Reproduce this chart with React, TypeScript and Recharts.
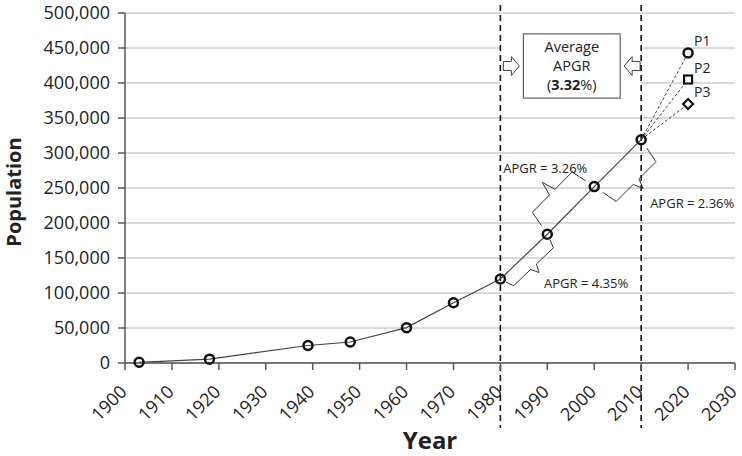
import { LineChart, Line, XAxis, YAxis, CartesianGrid, ReferenceLine, ReferenceArea } from "recharts";

// observed population by census year
const years = [1903, 1918, 1939, 1948, 1960, 1970, 1980, 1990, 2000, 2010];
const population = [1000, 5500, 25000, 30000, 50500, 86000, 120000, 184000, 252000, 319000];

// projections to 2020
const projectionYears = [2010, 2020];
const p1Values = [319000, 443000];
const p2Values = [319000, 405000];
const p3Values = [319000, 370000];
const projectionNames = ["P1", "P2", "P3"];

// brace annotations (segment start year, end year, text)
const braceFrom = [1980, 1990, 2000];
const braceTo = [1990, 2000, 2010];
const braceLabels = ["APGR = 4.35%", "APGR = 3.26%", "APGR = 2.36%"];
const averageApgr = "3.32";

const xTicks = [1900, 1910, 1920, 1930, 1940, 1950, 1960, 1970, 1980, 1990, 2000, 2010, 2020, 2030];
const yTicks = [0, 50000, 100000, 150000, 200000, 250000, 300000, 350000, 400000, 450000, 500000];

const mainData = years.map((y, i) => ({ year: y, pop: population[i] }));
const projData = [p1Values, p2Values, p3Values].map((vals) =>
    projectionYears.map((y, i) => ({ year: y, pop: vals[i] }))
);
const popAt = (yr: number) => population[years.indexOf(yr)];

const FONT = "'Open Sans', sans-serif";
const INK = "#222";

// how each brace sits next to the line (pixels)
const braceStyle = [
    { side: 1, d: 14, hook: 8, tip: 8, dx: 5, dy: 15, anchor: "start" },
    { side: -1, d: 26, hook: 16, tip: 14, dx: 3, dy: -9, anchor: "middle" },
    { side: 1, d: 26, hook: 16, tip: 10, dx: 7, dy: 19, anchor: "start" },
];

function braceShape(st: any, text: string) {
    return (p: any) => {
        const { x1, y1, x2, y2 } = p;
        const L = Math.hypot(x2 - x1, y2 - y1);
        const ux = (x2 - x1) / L;
        const uy = (y2 - y1) / L;
        const nx = st.side > 0 ? -uy : uy;
        const ny = st.side > 0 ? ux : -ux;
        const pt = (a: number, b: number) => `${x1 + ux * a + nx * b},${y1 + uy * a + ny * b}`;
        const m = L / 2;
        const pts = [
            pt(2, st.d - st.hook),
            pt(5, st.d),
            pt(m - 4, st.d),
            pt(m, st.d + st.tip),
            pt(m + 4, st.d),
            pt(L - 5, st.d),
            pt(L - 2, st.d - st.hook),
        ].join(" ");
        const tx = x1 + ux * m + nx * (st.d + st.tip);
        const ty = y1 + uy * m + ny * (st.d + st.tip);
        return (
            <g>
                <polyline points={pts} fill="none" stroke="#333" strokeWidth={1} />
                <text x={tx + st.dx} y={ty + st.dy} textAnchor={st.anchor} fontFamily={FONT} fontSize={13} fill={INK}>
                    {text}
                </text>
            </g>
        );
    };
}

function arrow(tipX: number, cy: number, dir: number) {
    // hollow block arrow, dir 1 = pointing right
    const pts = [
        [-16, -4.5],
        [-8, -4.5],
        [-8, -9.5],
        [0, 0],
        [-8, 9.5],
        [-8, 4.5],
        [-16, 4.5],
    ]
        .map(([a, b]) => `${tipX + a * dir},${cy + b}`)
        .join(" ");
    return <polygon points={pts} fill="#fff" stroke="#444" strokeWidth={1} />;
}

function boxShape(p: any) {
    const { x, y, width, height } = p;
    const bx = x + 23;
    const bw = width - 44;
    const by = y + 5.5;
    const bh = height - 10;
    const cx = bx + bw / 2;
    const cy = by + bh / 2;
    return (
        <g>
            <rect x={x} y={y} width={width} height={height} fill="#fff" />
            <rect x={bx} y={by} width={bw} height={bh} fill="#fff" stroke="#444" strokeWidth={1} />
            {arrow(bx - 4, cy, 1)}
            {arrow(bx + bw + 4, cy, -1)}
            <text textAnchor="middle" fontFamily={FONT} fontSize={14.5} fill={INK}>
                <tspan x={cx} y={by + 18}>Average</tspan>
                <tspan x={cx} y={by + 37}>APGR</tspan>
                <tspan x={cx} y={by + 56}>
                    (<tspan fontWeight="bold">{averageApgr}</tspan>%)
                </tspan>
            </text>
        </g>
    );
}

function dashedExtended(p: any) {
    const top = Math.min(p.y1, p.y2);
    const bottom = Math.max(p.y1, p.y2);
    return <line x1={p.x1} x2={p.x2} y1={top - 8} y2={bottom + 65} stroke="#111" strokeWidth={1.6} strokeDasharray="6 4" />;
}

function XTick(p: any) {
    const { x, y, payload } = p;
    const ax = x + 3;
    const ay = y + 23;
    return (
        <text x={ax} y={ay} transform={`rotate(-45 ${ax} ${ay})`} textAnchor="end" fontFamily={FONT} fontSize={18} fill={INK}>
            {payload.value}
        </text>
    );
}

function circleDot(p: any) {
    return <circle key={p.key ?? `c${p.index}`} cx={p.cx} cy={p.cy} r={4.5} fill="none" stroke="#111" strokeWidth={2.5} />;
}

function projDot(kind: number) {
    return (p: any) => {
        const k = p.key ?? `p${kind}-${p.index}`;
        if (p.index !== 1) return <g key={k} />;
        const { cx, cy } = p;
        let mark;
        if (kind === 0) mark = <circle cx={cx} cy={cy} r={4.5} fill="#fff" stroke="#111" strokeWidth={2.5} />;
        else if (kind === 1) mark = <rect x={cx - 4} y={cy - 4} width={8} height={8} fill="#fff" stroke="#111" strokeWidth={2.2} />;
        else
            mark = (
                <polygon
                    points={`${cx},${cy - 5} ${cx + 5},${cy} ${cx},${cy + 5} ${cx - 5},${cy}`}
                    fill="#fff"
                    stroke="#111"
                    strokeWidth={2.2}
                />
            );
        return (
            <g key={k}>
                {mark}
                <text x={cx + 6} y={cy - 7} fontFamily={FONT} fontSize={14} fill={INK}>
                    {projectionNames[kind]}
                </text>
            </g>
        );
    };
}

export default function App() {
    return (
        <div style={{ position: "absolute", left: 0, top: 0, background: "#fff" }}>
            <LineChart width={742} height={456} margin={{ top: 13, right: 7, bottom: 0, left: 0 }}>
                <CartesianGrid vertical={false} stroke="#b4b4b4" strokeWidth={1} />
                <XAxis
                    dataKey="year"
                    type="number"
                    domain={[1900, 2030]}
                    ticks={xTicks}
                    interval={0}
                    height={93}
                    tickSize={7}
                    tickMargin={0}
                    axisLine={{ stroke: "#555", strokeWidth: 1.5 }}
                    tickLine={{ stroke: "#555", strokeWidth: 1.5 }}
                    tick={<XTick />}
                    label={{
                        content: (lp: any) => {
                            const vb = lp.viewBox;
                            return (
                                <text x={vb.x + vb.width / 2} y={vb.y + 86} textAnchor="middle" fontFamily={FONT} fontWeight="bold" fontSize={24} fill={INK}>
                                    Year
                                </text>
                            );
                        },
                    }}
                />
                <YAxis
                    type="number"
                    domain={[0, 500000]}
                    ticks={yTicks}
                    interval={0}
                    width={125}
                    tickSize={7}
                    tickMargin={8}
                    axisLine={{ stroke: "#555", strokeWidth: 1.5 }}
                    tickLine={{ stroke: "#555", strokeWidth: 1.5 }}
                    tick={{ fontFamily: FONT, fontSize: 18, fill: INK }}
                    tickFormatter={(v: number) => v.toLocaleString("en-US")}
                    label={{
                        content: (lp: any) => {
                            const vb = lp.viewBox;
                            const cy = vb.y + vb.height / 2 + 4;
                            return (
                                <text x={21} y={cy} transform={`rotate(-90 21 ${cy})`} textAnchor="middle" fontFamily={FONT} fontWeight="bold" fontSize={20} fill={INK}>
                                    Population
                                </text>
                            );
                        },
                    }}
                />
                <ReferenceArea x1={1980} x2={2010} y1={372000} y2={478000} shape={boxShape} />
                <ReferenceLine x={1980} shape={dashedExtended} />
                <ReferenceLine x={2010} shape={dashedExtended} />
                {braceFrom.map((from, i) => (
                    <ReferenceLine
                        key={`brace-${i}`}
                        segment={[
                            { x: from, y: popAt(from) },
                            { x: braceTo[i], y: popAt(braceTo[i]) },
                        ]}
                        shape={braceShape(braceStyle[i], braceLabels[i])}
                    />
                ))}
                {projData.map((d, i) => (
                    <Line
                        key={`proj-${i}`}
                        data={d}
                        dataKey="pop"
                        type="linear"
                        stroke="#444"
                        strokeWidth={1}
                        strokeDasharray="3 2"
                        dot={projDot(i)}
                        isAnimationActive={false}
                    />
                ))}
                <Line
                    data={mainData}
                    dataKey="pop"
                    type="linear"
                    stroke="#444"
                    strokeWidth={1.2}
                    dot={circleDot}
                    isAnimationActive={false}
                />
            </LineChart>
        </div>
    );
}
